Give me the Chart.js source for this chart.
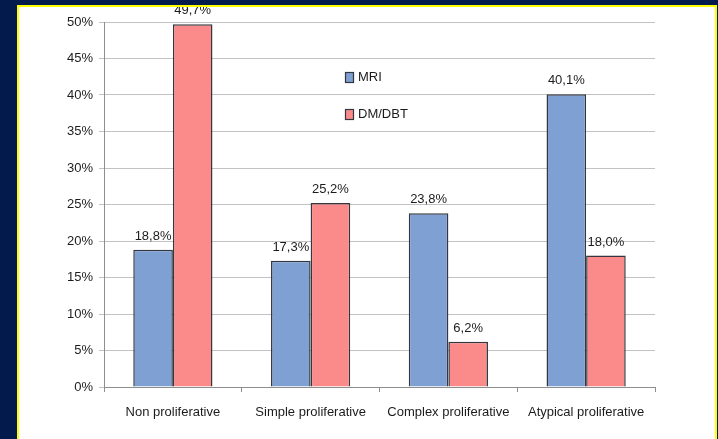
<!DOCTYPE html>
<html>
<head>
<meta charset="utf-8">
<script src="https://cdn.jsdelivr.net/npm/chart.js@4/dist/chart.umd.min.js"></script>
<style>
  html, body { margin: 0; padding: 0; }
  body { width: 718px; height: 439px; background: #021a4c; overflow: hidden; position: relative; }
  #panel {
    position: absolute; left: 17px; top: 5px; width: 696px; height: 440px;
    background: #ffffff; border: 2px solid #ffff00; border-bottom: none;
  }
  #chart { position: absolute; left: 0; top: 0; }
</style>
</head>
<body>
<div id="panel"><canvas id="chart" width="696" height="432"></canvas></div>
<script>
// Categories of lesion and the share of each detected by MRI and by DM/DBT (percent)
const categories = ['Non proliferative', 'Simple proliferative', 'Complex proliferative', 'Atypical proliferative'];
const seriesNames = ['MRI', 'DM/DBT'];
const mriValues = [18.8, 17.3, 23.8, 40.1];
const dmDbtValues = [49.7, 25.2, 6.2, 18.0];
const yTicks = [0, 5, 10, 15, 20, 25, 30, 35, 40, 45, 50];

const FONT = "'Liberation Sans', Arial, sans-serif";
const TEXT = '#1c1c1c';
const blue = '#7ea0d3';
const pink = '#fb8a8a';
const edge = '#34373f';

function pct(v) { return v.toFixed(1).replace('.', ',') + '%'; }

// Value labels written above each bar
const valueLabels = {
  id: 'valueLabels',
  afterDatasetsDraw(chart) {
    const ctx = chart.ctx;
    ctx.save();
    ctx.font = '13px ' + FONT;
    ctx.fillStyle = TEXT;
    ctx.textAlign = 'center';
    ctx.textBaseline = 'bottom';
    chart.data.datasets.forEach((ds, i) => {
      chart.getDatasetMeta(i).data.forEach((bar, j) => {
        ctx.fillText(pct(ds.data[j]), bar.x, bar.y - 7);
      });
    });
    ctx.restore();
  }
};

// Legend drawn inside the plot, stacked vertically
const innerLegend = {
  id: 'innerLegend',
  afterDraw(chart) {
    const ctx = chart.ctx;
    const x = 326, y0 = 70, gap = 37;
    ctx.save();
    ctx.font = '13px ' + FONT;
    ctx.textBaseline = 'middle';
    chart.data.datasets.forEach((ds, i) => {
      const y = y0 + i * gap;
      ctx.fillStyle = ds.backgroundColor;
      ctx.fillRect(x, y - 5, 8, 10);
      ctx.strokeStyle = edge;
      ctx.lineWidth = 1.2;
      ctx.strokeRect(x + 0.5, y - 4.5, 8, 10);
      ctx.fillStyle = TEXT;
      ctx.textAlign = 'left';
      ctx.fillText(ds.label, x + 13, y);
    });
    ctx.restore();
  }
};

new Chart(document.getElementById('chart'), {
  type: 'bar',
  data: {
    labels: categories,
    datasets: [
      { label: seriesNames[0], data: mriValues, backgroundColor: blue, borderColor: edge, borderWidth: 1.5 },
      { label: seriesNames[1], data: dmDbtValues, backgroundColor: pink, borderColor: edge, borderWidth: 1.5 }
    ]
  },
  options: {
    responsive: false,
    animation: false,
    devicePixelRatio: 1,
    layout: { padding: { top: 15, right: 60, bottom: 0, left: 0 } },
    datasets: { bar: { categoryPercentage: 0.575, barPercentage: 1.0 } },
    plugins: {
      legend: { display: false },
      tooltip: { enabled: false }
    },
    scales: {
      x: {
        grid: { drawOnChartArea: false, drawTicks: true, tickLength: 5, color: '#8e8e8e', offset: true },
        border: { color: '#8e8e8e' },
        ticks: { color: TEXT, font: { family: FONT, size: 13 }, padding: 13, maxRotation: 0 },
        afterFit(scale) { scale.height = 52; }
      },
      y: {
        min: 0, max: 50,
        afterBuildTicks(scale) { scale.ticks = yTicks.map(v => ({ value: v })); },
        grid: { color: '#c2c2c2', tickLength: 5 },
        border: { color: '#8e8e8e' },
        ticks: { color: TEXT, font: { family: FONT, size: 13 }, padding: 6, callback: v => v + '%' },
        afterFit(scale) { scale.width = 85; }
      }
    }
  },
  plugins: [valueLabels, innerLegend]
});
</script>
</body>
</html>
